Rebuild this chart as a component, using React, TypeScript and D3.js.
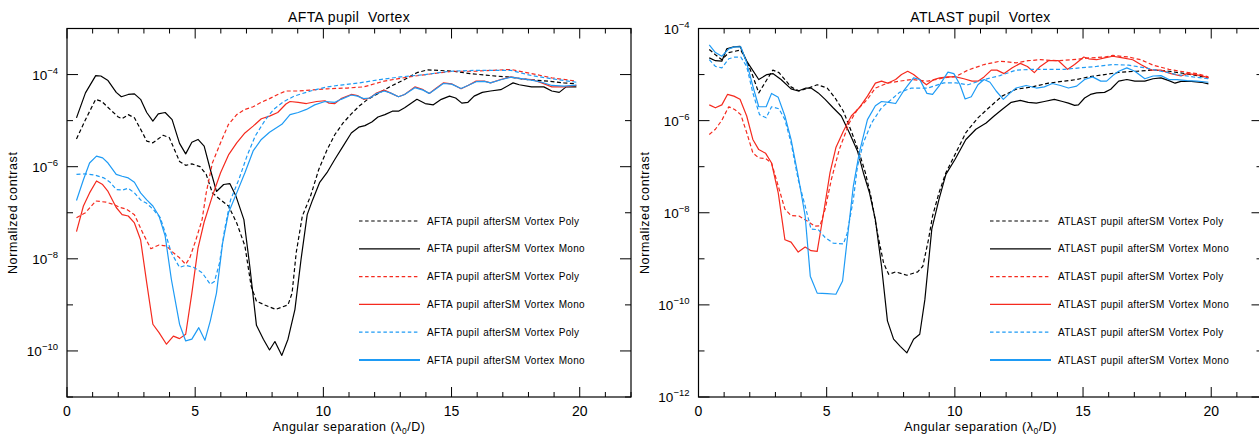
import { useEffect, useRef } from "react";
import * as d3 from "d3";

type Pt = [number, number];

// AFTA pupil, afterSM, Vortex
const aftaPolyBlack: Pt[] = [
  [0.37, 4e-6], [0.72, 1.05e-5], [1.12, 2.9e-5], [1.36, 2.6e-5], [1.68, 1.75e-5], [2.0, 1.2e-5], [2.15, 1.1e-5],
  [2.39, 1.35e-5], [2.63, 1.15e-5], [2.95, 5.4e-6], [3.11, 3.6e-6], [3.35, 3.3e-6], [3.75, 4.8e-6], [3.99, 4.3e-6],
  [4.39, 1.3e-6], [4.63, 1.07e-6], [4.87, 1.15e-6], [5.19, 1e-6], [5.43, 6.8e-7], [5.67, 2.7e-7], [5.99, 1.9e-7],
  [6.3, 1.4e-7], [6.62, 6e-8], [6.94, 1.9e-8], [7.18, 2.6e-9], [7.39, 1.2e-9], [7.74, 9.8e-10], [8.14, 8e-10],
  [8.62, 1e-9], [8.78, 1.8e-9], [8.94, 1.35e-8], [9.18, 8.5e-8], [9.5, 2.3e-7], [9.82, 8.7e-7], [10.14, 2.3e-6],
  [10.45, 5e-6], [10.77, 8.9e-6], [11.09, 1.4e-5], [11.41, 2.1e-5], [11.73, 2.9e-5], [12.21, 4.1e-5], [12.69, 5.8e-5],
  [13.17, 7.8e-5], [13.65, 1.1e-4], [14.05, 1.26e-4], [14.52, 1.23e-4], [15.08, 1.18e-4], [15.72, 1.05e-4],
  [16.52, 9.5e-5], [17.16, 8.9e-5], [17.96, 7.8e-5], [18.76, 7.2e-5], [19.39, 6.6e-5], [19.87, 6.3e-5],
];
const aftaMonoBlack: Pt[] = [
  [0.37, 1.15e-5], [0.72, 4e-5], [1.12, 9.5e-5], [1.32, 9.3e-5], [1.6, 7.4e-5], [1.92, 4.1e-5], [2.12, 3.3e-5],
  [2.39, 3.7e-5], [2.63, 3.8e-5], [2.87, 2.9e-5], [3.11, 1.5e-5], [3.35, 9.8e-6], [3.56, 1.4e-5], [3.83, 1.5e-5],
  [4.1, 1.05e-5], [4.39, 3.2e-6], [4.63, 1.9e-6], [4.87, 3.4e-6], [5.11, 3.9e-6], [5.35, 2.8e-6], [5.59, 8.7e-7],
  [5.83, 2.9e-7], [6.11, 4.1e-7], [6.35, 4.3e-7], [6.59, 2.3e-7], [6.9, 7.1e-8], [7.13, 6.9e-9], [7.39, 3.6e-10],
  [7.66, 1.8e-10], [7.9, 1.05e-10], [8.11, 1.6e-10], [8.38, 8e-11], [8.62, 1.8e-10], [8.89, 7.9e-10], [9.13, 9.8e-9],
  [9.37, 9.1e-8], [9.58, 1.9e-7], [9.85, 4.5e-7], [10.14, 7.4e-7], [10.45, 1.45e-6], [10.77, 2.8e-6], [11.09, 5.4e-6],
  [11.38, 7.2e-6], [11.62, 7.8e-6], [11.89, 9.3e-6], [12.13, 1.2e-5], [12.4, 1.35e-5], [12.69, 1.6e-5], [12.93, 1.6e-5],
  [13.17, 1.9e-5], [13.41, 2.35e-5], [13.65, 2.9e-5], [13.97, 2.35e-5], [14.29, 2.2e-5], [14.6, 2.9e-5], [14.92, 3.4e-5],
  [15.16, 3.1e-5], [15.4, 2.4e-5], [15.64, 2.5e-5], [15.88, 3.4e-5], [16.2, 4.1e-5], [16.52, 4.4e-5], [16.92, 4.7e-5],
  [17.4, 6.6e-5], [17.64, 6e-5], [18.12, 5.4e-5], [18.6, 5.4e-5], [18.91, 4.4e-5], [19.2, 4.1e-5], [19.47, 5.4e-5],
  [19.87, 5.4e-5],
];
const aftaPolyRed: Pt[] = [
  [0.37, 7.8e-8], [0.72, 1e-7], [1.12, 1.8e-7], [1.52, 1.7e-7], [1.84, 1.5e-7], [2.07, 1.3e-7], [2.31, 1.2e-7],
  [2.63, 9.1e-8], [2.95, 3.7e-8], [3.27, 1.66e-8], [3.59, 2e-8], [3.88, 1.9e-8], [4.15, 1.35e-8], [4.39, 1.05e-8],
  [4.63, 7.6e-9], [4.79, 1.05e-8], [5.03, 2.6e-8], [5.27, 7.1e-8], [5.43, 2.7e-7], [5.67, 1.2e-6], [5.99, 3.3e-6],
  [6.3, 8.3e-6], [6.62, 1.35e-5], [6.94, 1.75e-5], [7.26, 2e-5], [7.58, 2.5e-5], [7.9, 3e-5], [8.22, 3.7e-5],
  [8.54, 4.4e-5], [9.02, 4.4e-5], [9.5, 4.6e-5], [10.14, 4.9e-5], [10.93, 5.1e-5], [11.57, 5.4e-5], [12.37, 7.2e-5],
  [13.33, 8.9e-5], [14.29, 1.05e-4], [15.08, 1.18e-4], [15.88, 1.18e-4], [16.52, 1.23e-4], [17.32, 1.29e-4],
  [18.12, 1.05e-4], [18.91, 8.5e-5], [19.87, 7.2e-5],
];
const aftaMonoRed: Pt[] = [
  [0.37, 3.9e-8], [0.64, 1.4e-7], [0.88, 2.7e-7], [1.15, 4.9e-7], [1.39, 4.1e-7], [1.6, 2.9e-7], [1.92, 1.3e-7],
  [2.15, 9.1e-8], [2.39, 8.5e-8], [2.63, 6e-8], [2.87, 2.6e-8], [3.11, 3e-9], [3.35, 3.8e-10], [3.59, 2.5e-10],
  [3.88, 1.4e-10], [4.15, 2.1e-10], [4.39, 1.85e-10], [4.63, 2.3e-10], [4.87, 1.8e-9], [5.11, 1.7e-8], [5.35, 6.3e-8],
  [5.67, 2.3e-7], [5.99, 7.4e-7], [6.3, 1.8e-6], [6.62, 3.3e-6], [6.94, 5.4e-6], [7.26, 7.6e-6], [7.58, 1.1e-5],
  [7.9, 1.25e-5], [8.22, 1.5e-5], [8.54, 2.3e-5], [8.7, 2.6e-5], [9.02, 2.5e-5], [9.34, 2.35e-5], [9.74, 2.6e-5],
  [10.06, 2.7e-5], [10.22, 2.4e-5], [10.45, 2.35e-5], [10.69, 3e-5], [11.09, 3.7e-5], [11.33, 3.5e-5], [11.57, 2.9e-5],
  [11.81, 3.1e-5], [12.05, 3.9e-5], [12.37, 4.6e-5], [12.61, 4e-5], [12.93, 3.3e-5], [13.17, 3.7e-5], [13.57, 5.4e-5],
  [13.89, 4.7e-5], [14.13, 3.9e-5], [14.37, 4.9e-5], [14.68, 6.6e-5], [15.0, 6.3e-5], [15.37, 4.9e-5], [15.64, 5.8e-5],
  [15.96, 7.2e-5], [16.28, 7.2e-5], [16.52, 6.6e-5], [16.92, 7.8e-5], [17.32, 8.9e-5], [17.72, 8.1e-5], [18.12, 7.8e-5],
  [18.52, 6.6e-5], [18.91, 5.4e-5], [19.39, 5.4e-5], [19.87, 5.8e-5],
];
const aftaPolyBlue: Pt[] = [
  [0.37, 6.8e-7], [0.72, 7e-7], [1.12, 6.5e-7], [1.44, 5.7e-7], [1.68, 4.6e-7], [1.92, 3.2e-7], [2.15, 3.1e-7],
  [2.39, 3.4e-7], [2.63, 2.7e-7], [2.87, 1.9e-7], [3.11, 1.6e-7], [3.35, 1.2e-7], [3.64, 7.8e-8], [3.83, 3.7e-8],
  [4.07, 1.35e-8], [4.39, 6.5e-9], [4.63, 7.2e-9], [4.95, 6.5e-9], [5.27, 5e-9], [5.59, 2.8e-9], [5.75, 3.2e-9],
  [5.95, 8.1e-9], [6.15, 4.4e-8], [6.38, 1.9e-7], [6.7, 5.2e-7], [7.02, 1.7e-6], [7.34, 4.6e-6], [7.74, 1.05e-5],
  [8.06, 1.75e-5], [8.46, 2.6e-5], [8.86, 3.4e-5], [9.5, 4.4e-5], [10.14, 5.4e-5], [10.77, 6e-5], [11.41, 6.6e-5],
  [12.21, 7.8e-5], [13.01, 8.9e-5], [13.97, 1e-4], [14.92, 1.18e-4], [15.88, 1.23e-4], [16.84, 1.23e-4],
  [17.32, 1.23e-4], [18.12, 9.5e-5], [18.91, 8.1e-5], [19.87, 6.8e-5],
];
const aftaMonoBlue: Pt[] = [
  [0.37, 1.85e-7], [0.64, 5.2e-7], [0.88, 1.2e-6], [1.15, 1.7e-6], [1.39, 1.55e-6], [1.6, 1.2e-6], [1.92, 6.8e-7],
  [2.15, 6.2e-7], [2.39, 5.7e-7], [2.63, 4.6e-7], [2.87, 2.7e-7], [3.11, 1.9e-7], [3.35, 1.4e-7], [3.59, 8.5e-8],
  [3.83, 3.1e-8], [4.07, 3.6e-9], [4.39, 3.8e-10], [4.63, 1.65e-10], [4.87, 1.8e-10], [5.14, 3.2e-10], [5.38, 1.7e-10],
  [5.59, 4.5e-10], [5.83, 1.8e-9], [6.07, 2.2e-8], [6.3, 1e-7], [6.62, 2.7e-7], [6.94, 7.4e-7], [7.26, 2.2e-6],
  [7.58, 3.9e-6], [7.9, 5.6e-6], [8.38, 8.3e-6], [8.7, 1.35e-5], [9.02, 1.5e-5], [9.34, 1.75e-5], [9.66, 2.2e-5],
  [10.06, 2.6e-5], [10.45, 2.5e-5], [10.69, 2.9e-5], [11.09, 3.6e-5], [11.33, 3.4e-5], [11.57, 3e-5], [11.81, 3.1e-5],
  [12.05, 3.8e-5], [12.37, 4.4e-5], [12.61, 4e-5], [12.93, 3.3e-5], [13.17, 3.7e-5], [13.57, 5.2e-5], [13.89, 4.6e-5],
  [14.13, 3.9e-5], [14.37, 4.8e-5], [14.68, 6.4e-5], [15.0, 6.2e-5], [15.37, 5e-5], [15.64, 5.8e-5], [15.96, 7e-5],
  [16.28, 7.1e-5], [16.52, 6.6e-5], [16.92, 7.7e-5], [17.32, 8.8e-5], [17.72, 8.2e-5], [18.12, 7.6e-5], [18.52, 6.8e-5],
  [18.91, 5.8e-5], [19.39, 5.6e-5], [19.87, 5.9e-5],
];

// ATLAST pupil, afterSM, Vortex
const atlastPolyBlack: Pt[] = [
  [0.42, 3.5e-5], [0.66, 2.7e-5], [0.91, 2.1e-5], [1.18, 3e-5], [1.41, 3.2e-5], [1.65, 3.4e-5], [1.88, 1.95e-5],
  [2.12, 9.3e-6], [2.35, 4e-6], [2.67, 7.8e-6], [2.9, 1.25e-5], [3.14, 1.1e-5], [3.37, 7.8e-6], [3.61, 5.4e-6],
  [3.92, 4.4e-6], [4.24, 5e-6], [4.63, 6e-6], [5.02, 5.1e-6], [5.33, 3.1e-6], [5.65, 1.6e-6], [5.96, 5.9e-7],
  [6.27, 2e-7], [6.51, 7.4e-8], [6.75, 1.95e-8], [6.98, 3.6e-9], [7.22, 8.1e-10], [7.42, 4.6e-10], [7.69, 5.2e-10],
  [8.13, 4.4e-10], [8.55, 5.2e-10], [8.75, 6.9e-10], [8.97, 2.6e-9], [9.13, 8.5e-9], [9.38, 2.7e-8], [9.65, 7.4e-8],
  [10.04, 2e-7], [10.43, 5.5e-7], [10.9, 1.15e-6], [11.37, 2e-6], [11.84, 3.4e-6], [12.39, 4.8e-6], [13.02, 5.4e-6],
  [13.65, 6.5e-6], [14.27, 7.2e-6], [14.75, 7.8e-6], [15.22, 8.9e-6], [15.84, 1e-5], [16.47, 1.13e-5], [17.1, 1.18e-5],
  [17.73, 1.25e-5], [18.35, 1.18e-5], [18.98, 1.05e-5], [19.45, 9.5e-6], [19.89, 8.5e-6],
];
const atlastMonoBlack: Pt[] = [
  [0.42, 2.3e-5], [0.66, 2e-5], [0.91, 1.95e-5], [1.1, 3.6e-5], [1.38, 4e-5], [1.62, 4.1e-5], [1.88, 1.95e-5],
  [2.35, 7.8e-6], [2.67, 1e-5], [2.9, 1.05e-5], [3.22, 7.8e-6], [3.61, 4.9e-6], [3.89, 4.4e-6], [4.19, 5.1e-6],
  [4.39, 5.1e-6], [4.67, 4e-6], [4.94, 2.9e-6], [5.25, 1.9e-6], [5.57, 1.26e-6], [5.88, 5.5e-7], [6.2, 2.2e-7],
  [6.43, 7.4e-8], [6.67, 2.7e-8], [6.9, 7.1e-9], [7.14, 6.9e-10], [7.37, 4.5e-11], [7.61, 1.8e-11], [7.87, 1.26e-11],
  [8.13, 9.1e-12], [8.39, 1.8e-11], [8.63, 2.3e-11], [8.83, 1.3e-10], [9.1, 4.4e-9], [9.38, 1.95e-8], [9.65, 6.8e-8],
  [10.01, 1.45e-7], [10.43, 3.9e-7], [10.82, 6.5e-7], [11.22, 8.9e-7], [11.53, 1.26e-6], [11.84, 1.75e-6], [12.2, 2.5e-6],
  [12.55, 2.75e-6], [12.86, 2.5e-6], [13.18, 2.4e-6], [13.49, 2.6e-6], [13.88, 2.9e-6], [14.2, 2.6e-6], [14.43, 2.4e-6],
  [14.67, 2.15e-6], [14.82, 2.2e-6], [15.06, 3.1e-6], [15.29, 3.7e-6], [15.53, 4e-6], [15.84, 4.1e-6], [16.08, 4.8e-6],
  [16.39, 7.2e-6], [16.71, 7.8e-6], [17.02, 7.2e-6], [17.41, 7.2e-6], [17.73, 8.1e-6], [18.04, 8.5e-6], [18.35, 7.4e-6],
  [18.59, 6.5e-6], [18.82, 7.1e-6], [19.22, 7.1e-6], [19.61, 6.8e-6], [19.89, 6.3e-6],
];
const atlastPolyRed: Pt[] = [
  [0.42, 5e-7], [0.66, 6.5e-7], [0.91, 1.02e-6], [1.18, 2e-6], [1.41, 1.75e-6], [1.65, 1.35e-6], [1.88, 5.5e-7],
  [2.12, 2e-7], [2.35, 1.55e-7], [2.62, 1.5e-7], [2.85, 1.2e-7], [3.11, 3.8e-8], [3.37, 1.2e-8], [3.61, 8.7e-9],
  [3.92, 8.5e-9], [4.24, 6.6e-9], [4.55, 5.1e-9], [4.74, 5.2e-9], [4.94, 1.2e-8], [5.18, 5.2e-8], [5.49, 2.35e-7],
  [5.88, 8.9e-7], [6.2, 1.75e-6], [6.59, 2.9e-6], [6.9, 5.1e-6], [7.37, 6.5e-6], [7.84, 7.2e-6], [8.31, 7.8e-6],
  [8.94, 7.2e-6], [9.57, 8.5e-6], [10.04, 9.1e-6], [10.51, 1.25e-5], [11.14, 1.65e-5], [11.76, 1.95e-5], [12.39, 1.8e-5],
  [12.86, 2e-5], [13.33, 2.1e-5], [13.96, 2e-5], [14.59, 2.1e-5], [15.22, 2.3e-5], [15.84, 2.4e-5], [16.16, 2.6e-5],
  [16.78, 2.4e-5], [17.25, 2.1e-5], [17.73, 1.6e-5], [18.35, 1.3e-5], [18.98, 1.13e-5], [19.45, 1.05e-5], [19.89, 8.9e-6],
];
const atlastMonoRed: Pt[] = [
  [0.42, 2.2e-6], [0.66, 1.9e-6], [0.91, 2.2e-6], [1.13, 3.7e-6], [1.38, 3.4e-6], [1.62, 2.9e-6], [1.88, 1.26e-6],
  [2.12, 3.9e-7], [2.35, 2.35e-7], [2.62, 1.95e-7], [2.85, 1.2e-7], [3.11, 2.7e-8], [3.37, 2.6e-9], [3.61, 2.3e-9],
  [3.89, 1.4e-9], [4.16, 1.8e-9], [4.39, 1.5e-9], [4.63, 1.45e-9], [4.86, 8.5e-9], [5.13, 7.4e-8], [5.36, 2.6e-7],
  [5.65, 5.9e-7], [5.96, 1.26e-6], [6.27, 1.9e-6], [6.59, 3.4e-6], [6.9, 6.5e-6], [7.14, 7.2e-6], [7.37, 6.5e-6],
  [7.69, 7.8e-6], [7.92, 1e-5], [8.16, 1.18e-5], [8.39, 1e-5], [8.63, 7.8e-6], [8.89, 6e-6], [9.18, 7.8e-6],
  [9.41, 8.5e-6], [9.73, 8.9e-6], [10.04, 8.9e-6], [10.35, 8.1e-6], [10.67, 7.2e-6], [10.9, 7.2e-6], [11.14, 8.9e-6],
  [11.42, 1.25e-5], [11.64, 1.25e-5], [11.92, 1.05e-5], [12.24, 1.4e-5], [12.55, 1.75e-5], [12.83, 1.5e-5],
  [13.1, 1.1e-5], [13.33, 1.5e-5], [13.65, 2e-5], [14.04, 2e-5], [14.4, 1.3e-5], [14.67, 1.65e-5], [15.03, 2.4e-5],
  [15.22, 2.2e-5], [15.53, 2.1e-5], [15.84, 2.3e-5], [16.16, 2.5e-5], [16.55, 2.3e-5], [16.94, 2.1e-5], [17.25, 1.65e-5],
  [17.65, 1.25e-5], [18.04, 1.25e-5], [18.43, 1.05e-5], [18.82, 9.3e-6], [19.06, 1.05e-5], [19.37, 1e-5],
  [19.61, 9.5e-6], [19.89, 8.5e-6],
];
const atlastPolyBlue: Pt[] = [
  [0.42, 2.1e-5], [0.66, 1.5e-5], [0.91, 1.4e-5], [1.18, 2.2e-5], [1.41, 2.4e-5], [1.65, 2.4e-5], [1.88, 1.5e-5],
  [2.12, 4e-6], [2.38, 1.35e-6], [2.64, 1.15e-6], [2.85, 2e-6], [3.14, 1.8e-6], [3.37, 1.05e-6], [3.61, 3.3e-7],
  [3.89, 5.2e-8], [4.16, 1.4e-8], [4.39, 4.4e-9], [4.67, 4.3e-9], [4.94, 2.9e-9], [5.25, 2.2e-9], [5.65, 2.1e-9],
  [5.8, 3.6e-9], [6.04, 1.95e-8], [6.2, 1e-7], [6.43, 3.3e-7], [6.75, 8.9e-7], [7.14, 1.9e-6], [7.53, 2.9e-6],
  [7.84, 4.1e-6], [8.31, 5.1e-6], [8.94, 5.1e-6], [9.57, 6.6e-6], [10.04, 6.6e-6], [10.51, 6e-6], [11.14, 7.8e-6],
  [11.76, 9.5e-6], [12.39, 1.25e-5], [13.02, 1.3e-5], [13.65, 1.3e-5], [14.27, 1.3e-5], [14.9, 1.4e-5], [15.53, 1.5e-5],
  [16.16, 1.65e-5], [16.78, 1.6e-5], [17.41, 1.4e-5], [18.04, 1.18e-5], [18.67, 1e-5], [19.29, 8.9e-6], [19.89, 8.1e-6],
];
const atlastMonoBlue: Pt[] = [
  [0.42, 4.4e-5], [0.66, 3e-5], [0.91, 2.5e-5], [1.18, 3.6e-5], [1.41, 4e-5], [1.65, 4e-5], [1.88, 1.8e-5],
  [2.12, 5.6e-6], [2.35, 2e-6], [2.64, 2e-6], [2.85, 3.9e-6], [3.11, 3.2e-6], [3.37, 1.26e-6], [3.61, 3.9e-7],
  [3.89, 6.2e-8], [4.16, 8.5e-9], [4.36, 4.2e-10], [4.63, 1.8e-10], [5.02, 1.75e-10], [5.36, 1.7e-10], [5.62, 3.3e-10],
  [5.8, 2.6e-9], [6.04, 3.8e-8], [6.27, 2e-7], [6.59, 1.05e-6], [6.9, 2.1e-6], [7.14, 2.6e-6], [7.42, 2.5e-6],
  [7.69, 2.35e-6], [8.0, 4.4e-6], [8.39, 8.5e-6], [8.63, 7.8e-6], [8.91, 3.9e-6], [9.13, 3.7e-6], [9.38, 5.6e-6],
  [9.73, 1.13e-5], [9.96, 1.05e-5], [10.2, 6e-6], [10.4, 2.95e-6], [10.64, 3.3e-6], [10.9, 6e-6], [11.14, 7.8e-6],
  [11.37, 6.8e-6], [11.61, 4.4e-6], [11.89, 2.9e-6], [12.16, 4e-6], [12.39, 5.1e-6], [12.78, 5.8e-6], [13.18, 5.1e-6],
  [13.49, 5.4e-6], [13.8, 6.4e-6], [14.12, 5.8e-6], [14.43, 5.1e-6], [14.75, 5.6e-6], [15.06, 7.8e-6], [15.37, 8.9e-6],
  [15.69, 7.2e-6], [15.92, 7.2e-6], [16.16, 9.5e-6], [16.39, 1.18e-5], [16.71, 1.4e-5], [17.02, 1.18e-5],
  [17.41, 8.1e-6], [17.73, 9.3e-6], [18.04, 9.5e-6], [18.35, 7.8e-6], [18.67, 7.8e-6], [19.06, 7.4e-6],
  [19.45, 7.2e-6], [19.89, 6.8e-6],
];

const xTicks = [0, 5, 10, 15, 20];
const aftaYTicks = [-4, -6, -8, -10];
const atlastYTicks = [-4, -6, -8, -10, -12];

const BLACK = "#000000";
const RED = "#f52a1e";
const BLUE = "#1e9bf5";
const FONT = "'Liberation Sans', Arial, sans-serif";

const seriesFor = (prefix: string, data: Pt[][]) => [
  { name: `${prefix} pupil afterSM Vortex Poly`, color: BLACK, dashed: true, data: data[0] },
  { name: `${prefix} pupil afterSM Vortex Mono`, color: BLACK, dashed: false, data: data[1] },
  { name: `${prefix} pupil afterSM Vortex Poly`, color: RED, dashed: true, data: data[2] },
  { name: `${prefix} pupil afterSM Vortex Mono`, color: RED, dashed: false, data: data[3] },
  { name: `${prefix} pupil afterSM Vortex Poly`, color: BLUE, dashed: true, data: data[4] },
  { name: `${prefix} pupil afterSM Vortex Mono`, color: BLUE, dashed: false, data: data[5] },
];

const panels = [
  {
    title: "AFTA pupil  Vortex",
    left: 67,
    yDomain: [1e-11, 1e-3],
    yTicks: aftaYTicks,
    legendX: 359,
    series: seriesFor("AFTA", [aftaPolyBlack, aftaMonoBlack, aftaPolyRed, aftaMonoRed, aftaPolyBlue, aftaMonoBlue]),
  },
  {
    title: "ATLAST pupil  Vortex",
    left: 698.5,
    yDomain: [1e-12, 1e-4],
    yTicks: atlastYTicks,
    legendX: 990,
    series: seriesFor("ATLAST", [
      atlastPolyBlack, atlastMonoBlack, atlastPolyRed, atlastMonoRed, atlastPolyBlue, atlastMonoBlue,
    ]),
  },
];

const App = () => {
  const ref = useRef<SVGSVGElement | null>(null);

  useEffect(() => {
    drawChart();
  }, []);

  const drawChart = () => {
    const svg = d3.select(ref.current);
    svg.selectAll("*").remove();

    const top = 28.5;
    const bottom = 397;
    const plotW = 564;

    panels.forEach((p) => {
      const g = svg.append("g");
      const x = d3.scaleLinear().domain([0, 22]).range([p.left, p.left + plotW]);
      const y = d3.scaleLog().domain(p.yDomain).range([bottom, top]);

      // frame
      g.append("rect")
        .attr("x", p.left)
        .attr("y", top)
        .attr("width", plotW)
        .attr("height", bottom - top)
        .attr("fill", "none")
        .attr("stroke", "#000")
        .attr("stroke-width", 1.2);

      // x ticks (bottom + top)
      d3.range(0, 23).forEach((v) => {
        const major = v % 5 === 0;
        const len = major ? 10 : 5;
        g.append("line").attr("x1", x(v)).attr("x2", x(v)).attr("y1", bottom).attr("y2", bottom - len)
          .attr("stroke", "#000").attr("stroke-width", 1);
        g.append("line").attr("x1", x(v)).attr("x2", x(v)).attr("y1", top).attr("y2", top + len)
          .attr("stroke", "#000").attr("stroke-width", 1);
      });

      // y ticks (left + right)
      const [lo, hi] = p.yDomain.map((d) => Math.round(Math.log10(d)));
      d3.range(lo, hi + 1).forEach((e) => {
        const major = e % 2 === 0;
        const len = major ? 11 : 6;
        const yy = y(Math.pow(10, e));
        g.append("line").attr("x1", p.left).attr("x2", p.left + len).attr("y1", yy).attr("y2", yy)
          .attr("stroke", "#000").attr("stroke-width", 1);
        g.append("line").attr("x1", p.left + plotW).attr("x2", p.left + plotW - len).attr("y1", yy).attr("y2", yy)
          .attr("stroke", "#000").attr("stroke-width", 1);
      });

      // x tick labels
      g.selectAll(".xl")
        .data(xTicks)
        .join("text")
        .attr("x", (d) => x(d))
        .attr("y", 416)
        .attr("text-anchor", "middle")
        .attr("font-family", FONT)
        .attr("font-size", 14)
        .text((d) => d);

      // y tick labels 10^n
      p.yTicks.forEach((e) => {
        const t = g.append("text")
          .attr("x", p.left - 9)
          .attr("y", y(Math.pow(10, e)) + 5)
          .attr("text-anchor", "end")
          .attr("font-family", FONT)
          .attr("font-size", 13.5);
        t.append("tspan").text("10");
        t.append("tspan").attr("dy", -6).attr("font-size", 9.5).text(`\u2212${-e}`);
      });

      // y axis title
      g.append("text")
        .attr("transform", `translate(${p.left - 50},${(top + bottom) / 2}) rotate(-90)`)
        .attr("text-anchor", "middle")
        .attr("font-family", FONT)
        .attr("font-size", 12.5)
        .attr("letter-spacing", 0.6)
        .text("Normalized contrast");

      // x axis title
      const xt = g.append("text")
        .attr("x", p.left + 282)
        .attr("y", 431)
        .attr("text-anchor", "middle")
        .attr("font-family", FONT)
        .attr("font-size", 12.5)
        .attr("letter-spacing", 0.5);
      xt.append("tspan").text("Angular separation (\u03bb");
      xt.append("tspan").attr("dy", 3).attr("font-size", 8.5).text("0");
      xt.append("tspan").attr("dy", -3).text("/D)");

      // title
      g.append("text")
        .attr("x", p.left + plotW / 2)
        .attr("y", 22)
        .attr("text-anchor", "middle")
        .attr("font-family", FONT)
        .attr("font-size", 14)
        .attr("letter-spacing", 0.4)
        .style("white-space", "pre")
        .text(p.title);

      // series
      const line = d3
        .line<Pt>()
        .x((d) => x(d[0]))
        .y((d) => y(d[1]));

      const clipId = `clip-${Math.round(p.left)}`;
      g.append("clipPath").attr("id", clipId).append("rect")
        .attr("x", p.left).attr("y", top).attr("width", plotW).attr("height", bottom - top);

      const lines = g.append("g").attr("clip-path", `url(#${clipId})`);
      p.series.forEach((s) => {
        lines.append("path")
          .attr("d", line(s.data))
          .attr("fill", "none")
          .attr("stroke", s.color)
          .attr("stroke-width", 1.2)
          .attr("stroke-linejoin", "round")
          .attr("stroke-dasharray", s.dashed ? "4,2.5" : null);
      });

      // legend
      p.series.forEach((s, i) => {
        const ly = 221 + i * 27.8;
        g.append("line")
          .attr("x1", p.legendX)
          .attr("x2", p.legendX + 61)
          .attr("y1", ly)
          .attr("y2", ly)
          .attr("stroke", s.color)
          .attr("stroke-width", i === 5 ? 2 : 1.2)
          .attr("stroke-dasharray", s.dashed ? "3.5,2.6" : null);
        g.append("text")
          .attr("x", p.legendX + 68)
          .attr("y", ly + 3.5)
          .attr("font-family", FONT)
          .attr("font-size", 10)
          .attr("letter-spacing", 0.3)
          .attr("word-spacing", 1)
          .text(s.name);
      });
    });
  };

  return (
    <svg
      ref={ref}
      width={1259}
      height={435}
      style={{ position: "absolute", left: 0, top: 0, background: "#fff" }}
    />
  );
};

export default App;
